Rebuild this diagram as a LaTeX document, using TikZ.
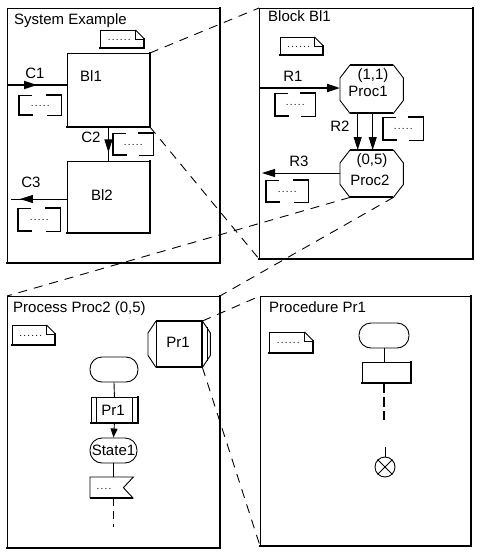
\documentclass[tikz,border=0pt]{standalone}
\usepackage{fontspec}
\setmainfont{Liberation Sans}
\usetikzlibrary{arrows.meta,decorations.markings,calc}

\tikzset{
  thinw/.style={line width=0.9pt},
  thickw/.style={line width=2pt},
  lbl/.style={inner sep=0pt, font=\fontsize{15}{17}\selectfont},
  dotlbl/.style={inner sep=0pt, font=\fontsize{10}{12}\selectfont\addfontfeatures{LetterSpace=12}},
  sdlbox/.style={draw, line width=0.9pt, inner sep=0pt, anchor=north west},
  ghost/.style={inner sep=0pt, anchor=north west},
  conn/.style={dash pattern=on 9pt off 7pt, line width=0.9pt},
  bigtip/.style={-{Triangle[length=13pt,width=8pt]}},
  smalltip/.style={-{Triangle[length=9pt,width=7pt]}},
  midarrow/.style={postaction={decorate}, decoration={markings, mark=at position #1 with {\arrow{Triangle[length=13pt,width=8pt]}}}},
  capsule/.style={draw, line width=0.9pt, rounded corners=12pt, inner sep=0pt},
}

\newcommand\sdlshadow[1]{\draw[thickw, line cap=rect] (#1.south west) -- (#1.south east) -- (#1.north east);}
\newcommand\sdlnote[1]{%
  \draw[thinw] ($(#1.north east)+(-9pt,0pt)$) -- (#1.north west) -- (#1.south west);
  \draw[thickw, line cap=rect] (#1.south west) -- (#1.south east) -- ($(#1.north east)+(0pt,-9pt)$);
  \draw[thinw] ($(#1.north east)+(-9pt,0pt)$) -- ($(#1.north east)+(0pt,-9pt)$);
  \draw[thinw] ($(#1.north east)+(-9pt,0pt)$) -- ($(#1.north east)+(-9pt,-9pt)$) -- ($(#1.north east)+(0pt,-9pt)$);
  \node[dotlbl, anchor=base] at ($(#1.center)+(-3pt,-1pt)$) {......};}
\newcommand\sdlcomment[1]{%
  \draw[thinw] ($(#1.north west)+(13pt,0pt)$) -- (#1.north west);
  \draw[line width=1.5pt] (#1.north west) -- (#1.south west);
  \draw[thickw, line cap=rect] (#1.south west) -- ($(#1.south west)+(13pt,0pt)$);
  \draw[thickw, line cap=rect] ($(#1.north east)+(-14pt,0pt)$) -- (#1.north east);
  \draw[thinw] (#1.north east) -- (#1.south east) -- ($(#1.south east)+(-14pt,0pt)$);
  \node[dotlbl, anchor=base] at ($(#1.center)+(0pt,-1pt)$) {.....};}
\newcommand\sdlocta[1]{%
  \draw[thinw] ($(#1.north west)+(10pt,0pt)$) -- ($(#1.north east)+(-10pt,0pt)$) -- ($(#1.north east)+(0pt,-13pt)$) -- ($(#1.south east)+(0pt,13pt)$) -- ($(#1.south east)+(-10pt,0pt)$) -- ($(#1.south west)+(10pt,0pt)$) -- ($(#1.south west)+(0pt,13pt)$) -- ($(#1.north west)+(0pt,-13pt)$) -- cycle;
  \draw[thickw] ($(#1.north west)+(10pt,0pt)$) -- ($(#1.north east)+(-10pt,0pt)$);
  \draw[thickw] ($(#1.south west)+(10pt,0pt)$) -- ($(#1.south east)+(-10pt,0pt)$);}

\begin{document}
\begin{tikzpicture}[x=1pt,y=-1pt]
\useasboundingbox (0,0) rectangle (480,555);

% ---------------- frames
\node[sdlbox, minimum width=212pt, minimum height=254pt] (f1) at (7,8) {};
\node[sdlbox, minimum width=213pt, minimum height=250pt] (f2) at (259,8) {};
\node[sdlbox, minimum width=212pt, minimum height=251pt] (f3) at (7,296) {};
\node[sdlbox, minimum width=210pt, minimum height=249pt] (f4) at (260,296) {};
\sdlshadow{f1}\sdlshadow{f2}\sdlshadow{f3}\sdlshadow{f4}

\node[lbl, anchor=base west] (t1) at (14,24) {System Example};
\node[lbl, anchor=base west] (t2) at (268,21) {Block Bl1};
\node[lbl, anchor=base west] (t3) at (13,312) {Process Proc2 (0,5)};
\node[lbl, anchor=base west] (t4) at (269,312) {Procedure Pr1};

% ---------------- frame 1 : system
\node[ghost, minimum width=44pt, minimum height=18pt] (n1) at (100,30) {};
\sdlnote{n1}

\node[sdlbox, minimum width=82pt, minimum height=73pt] (bl1) at (67,53) {};
\sdlshadow{bl1}
\node[lbl, anchor=west] (bl1t) at (80,76) {Bl1};
\node[sdlbox, minimum width=82pt, minimum height=71pt] (bl2) at (67,161) {};
\sdlshadow{bl2}
\node[lbl] (bl2t) at (102,195) {Bl2};

\coordinate (c1in) at (7,85);
\draw[thickw, midarrow=0.5] (c1in) -- (bl1.west |- c1in);
\node[lbl] (c1) at (35,73) {C1};
\node[ghost, minimum width=42pt, minimum height=20pt] (k1) at (19,95) {};
\sdlcomment{k1}

\draw[thinw, midarrow=0.75] (bl1.south) -- (bl2.north);
\node[lbl] (c2) at (91,137) {C2};
\node[ghost, minimum width=40pt, minimum height=22pt] (k2) at (113,133) {};
\sdlcomment{k2}

\coordinate (c3out) at (11,199);
\draw[thinw, midarrow=0.84] (bl2.west |- c3out) -- (c3out);
\node[lbl] (c3) at (31,182) {C3};
\node[ghost, minimum width=42pt, minimum height=23pt] (k3) at (18,208) {};
\sdlcomment{k3}

% ---------------- frame 2 : block
\node[ghost, minimum width=43pt, minimum height=18pt] (n2) at (280,37) {};
\sdlnote{n2}

\node[ghost, minimum width=63pt, minimum height=48pt] (p1) at (340,65) {};
\sdlocta{p1}
\node[lbl] (p1a) at (373,76) {(1,1)};
\node[lbl] (p1b) at (368,91) {Proc1};
\node[ghost, minimum width=63pt, minimum height=47pt] (p2) at (340,150) {};
\sdlocta{p2}
\node[lbl] (p2a) at (372,161) {(0,5)};
\node[lbl] (p2b) at (370,180) {Proc2};

\coordinate (r1in) at (259,88);
\draw[thickw, bigtip] (r1in) -- (p1.west |- r1in);
\node[lbl] (r1) at (293,76) {R1};
\node[ghost, minimum width=40pt, minimum height=23pt] (k4) at (275,93) {};
\sdlcomment{k4}

\draw[thinw, bigtip] ([xshift=-14pt]p1.south) -- ([xshift=-14pt]p2.north);
\draw[thinw, bigtip] ([xshift=1pt]p1.south) -- ([xshift=1pt]p2.north);
\node[lbl] (r2) at (340,126) {R2};
\node[ghost, minimum width=40pt, minimum height=23pt] (k5) at (383,117) {};
\sdlcomment{k5}

\coordinate (r3out) at (262,173);
\draw[thinw, bigtip] (p2.west |- r3out) -- (r3out);
\node[lbl] (r3) at (299,161) {R3};
\node[ghost, minimum width=42pt, minimum height=22pt] (k6) at (266,180) {};
\sdlcomment{k6}

% ---------------- frame 3 : process
\node[ghost, minimum width=43pt, minimum height=20pt] (n3) at (12,325) {};
\sdlnote{n3}

\node[ghost, minimum width=46pt, minimum height=46pt] (pr) at (156,321) {};
\draw[thinw] (pr.north west) -- (pr.south west);
\draw[thickw] (pr.north west) -- (pr.north east) -- (pr.south east) -- (pr.south west);
\draw[thinw] (pr.north west) -- ($(pr.north west)+(-8pt,-12pt)$) -- ($(pr.south west)+(-8pt,12pt)$) -- (pr.south west);
\draw[thinw] (pr.north east) -- ($(pr.north east)+(8pt,-12pt)$) -- ($(pr.south east)+(8pt,12pt)$) -- (pr.south east);
\draw[thinw] ($(pr.north east)+(5pt,-6pt)$) -- ($(pr.south east)+(5pt,6pt)$);
\node[lbl] (prt) at (178,342) {Pr1};

\node[capsule, minimum width=48pt, minimum height=25pt] (s3) at (114,369.5) {};
\node[sdlbox, minimum width=46pt, minimum height=25pt] (call) at (91,397) {};
\sdlshadow{call}
\draw[thinw] ([xshift=5pt]call.north west) -- ([xshift=5pt]call.south west);
\draw[thinw] ([xshift=-5pt]call.north east) -- ([xshift=-5pt]call.south east);
\node[lbl] (callt) at (113,410) {Pr1};
\node[capsule, minimum width=47pt, minimum height=25pt] (state) at (113.5,450.5) {};
\node[lbl] (statet) at (113.5,450.5) {State1};
\node[ghost, minimum width=43pt, minimum height=21pt] (inp) at (90,477) {};
\draw[thinw] (inp.south west) -- (inp.north west) -- (inp.north east) -- ($(inp.east)+(-10pt,0pt)$) -- (inp.south east);
\draw[thickw] (inp.south west) -- (inp.south east);
\node[dotlbl, anchor=base] (inpt) at (104,489) {....};

\draw[thinw] (s3.south) -- (call.north);
\draw[thinw, smalltip] (call.south) -- (state.north);
\draw[thinw] (state.south) -- (inp.north -| state.south);
\coordinate (dend) at (113,527);
\draw[thinw, dash pattern=on 8pt off 5pt] (inp.south -| dend) -- (dend);

% ---------------- frame 4 : procedure
\node[ghost, minimum width=44pt, minimum height=21pt] (n4) at (269,332) {};
\sdlnote{n4}

\node[capsule, minimum width=50pt, minimum height=25pt] (s4) at (384,335.5) {};
\node[sdlbox, minimum width=48pt, minimum height=20pt] (task) at (362,362) {};
\sdlshadow{task}
\draw[thinw] (s4.south) -- (s4.south |- task.north);
\coordinate (tdash) at (384,420);
\draw[thickw, dash pattern=on 10pt off 4pt] (s4.south |- task.south) -- (tdash);
\node[circle, draw, thinw, minimum size=20pt, inner sep=0pt] (stop) at (385,467) {};
\draw[thinw] (stop.north west) -- (stop.south east);
\draw[thinw] (stop.north east) -- (stop.south west);
\coordinate (stopin) at (385,447);
\draw[thinw] (stopin) -- (stop.north);

% ---------------- zoom connectors
\draw[conn] (bl1.north east) -- (f2.north west);
\draw[conn] (bl1.south east) -- (f2.south west);
\draw[conn] ($(p2.south west)+(10pt,0pt)$) -- (f3.north west);
\draw[conn] ($(p2.south east)+(-10pt,0pt)$) -- (f3.north east);
\draw[conn] (pr.north east) -- (f4.north west);
\draw[conn] (pr.south east) -- (f4.south west);
\end{tikzpicture}
\end{document}
